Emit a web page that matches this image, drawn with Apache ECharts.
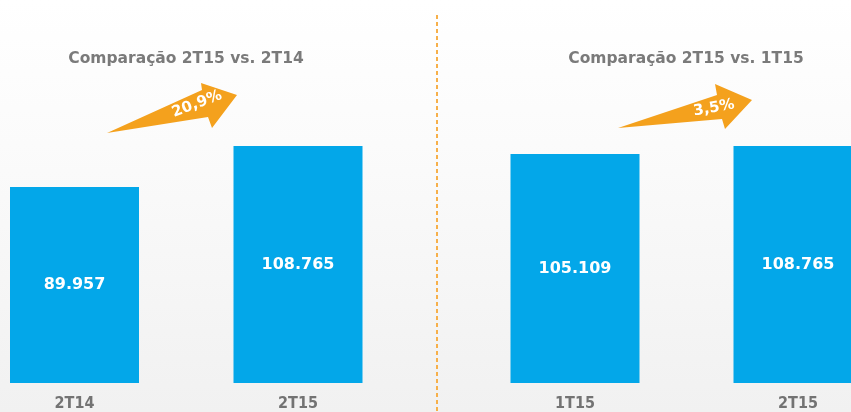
<!DOCTYPE html>
<html>
<head>
<meta charset="utf-8">
<script src="https://cdn.jsdelivr.net/npm/echarts@6/dist/echarts.min.js"></script>
<style>
  html, body { margin: 0; padding: 0; }
  #chart { width: 851px; height: 412px; }
</style>
</head>
<body>
<div id="chart"></div>
<script>
  // data
  var leftCats = ['2T14', '2T15'];
  var leftVals = [89957, 108765];
  var rightCats = ['1T15', '2T15'];
  var rightVals = [105109, 108765];
  var titles = ['Comparação 2T15 vs. 2T14', 'Comparação 2T15 vs. 1T15'];

  var blue = '#03A7E9';
  var orange = '#F4A11D';
  var gray = '#7a7a7a';

  function fmt(v) {
    return String(v).replace(/\B(?=(\d{3})+(?!\d))/g, '.');
  }
  function growth(vals) {
    return ((vals[1] / vals[0] - 1) * 100).toFixed(1).replace('.', ',') + '%';
  }

  function xAx(idx, cats) {
    return {
      type: 'category', gridIndex: idx, data: cats, boundaryGap: false,
      axisLine: { show: false }, axisTick: { show: false },
      axisLabel: { color: '#737373', fontSize: 16, fontWeight: 'bold', fontFamily: 'DejaVu Sans Condensed', margin: 13 }
    };
  }
  function yAx(idx) {
    return { type: 'value', gridIndex: idx, min: 0, max: 120000, show: false, splitLine: { show: false } };
  }
  function bars(idx, vals) {
    return {
      type: 'bar', xAxisIndex: idx, yAxisIndex: idx, data: vals, barWidth: 129,
      itemStyle: { color: blue },
      label: { show: true, position: 'inside', color: '#fff', fontSize: 16, fontWeight: 'bold',
        fontFamily: 'DejaVu Sans', formatter: function (p) { return fmt(p.value); } }
    };
  }

  var chart = echarts.init(document.getElementById('chart'));
  chart.setOption({
    animation: false,
    backgroundColor: {
      type: 'linear', x: 0, y: 0, x2: 0, y2: 1,
      colorStops: [{ offset: 0, color: '#ffffff' }, { offset: 0.35, color: '#fbfbfb' }, { offset: 1, color: '#f1f1f1' }]
    },
    textStyle: { fontFamily: 'DejaVu Sans' },
    title: [
      { text: titles[0], left: 181, top: 46, textAlign: 'center',
        textStyle: { color: gray, fontSize: 15.5, fontWeight: 'bold', fontFamily: 'DejaVu Sans' } },
      { text: titles[1], left: 681, top: 46, textAlign: 'center',
        textStyle: { color: gray, fontSize: 15.5, fontWeight: 'bold', fontFamily: 'DejaVu Sans' } }
    ],
    grid: [
      { left: 74.5, width: 223.5, top: 121.5, bottom: 29 },
      { left: 575, width: 223, top: 121.5, bottom: 29 }
    ],
    xAxis: [xAx(0, leftCats), xAx(1, rightCats)],
    yAxis: [yAx(0), yAx(1)],
    series: [bars(0, leftVals), bars(1, rightVals)],
    graphic: [
      { type: 'line', shape: { x1: 437, y1: 15, x2: 437, y2: 412 },
        style: { stroke: '#F7B04A', lineWidth: 2, lineDash: [4, 3] } },
      { type: 'polygon', shape: { points: [[107, 133], [202, 90], [201, 83], [237, 95], [212, 128], [208, 117]] },
        style: { fill: orange } },
      { type: 'text', x: 197, y: 104, rotation: 21 * Math.PI / 180,
        style: { text: growth(leftVals), fill: '#fff', font: 'bold 15px "DejaVu Sans"', align: 'center', verticalAlign: 'middle' } },
      { type: 'polygon', shape: { points: [[618, 128], [717, 95], [715, 84], [752, 100], [725, 129], [722, 119]] },
        style: { fill: orange } },
      { type: 'text', x: 714, y: 108, rotation: 10 * Math.PI / 180,
        style: { text: growth(rightVals), fill: '#fff', font: 'bold 15px "DejaVu Sans"', align: 'center', verticalAlign: 'middle' } }
    ]
  });
</script>
</body>
</html>
